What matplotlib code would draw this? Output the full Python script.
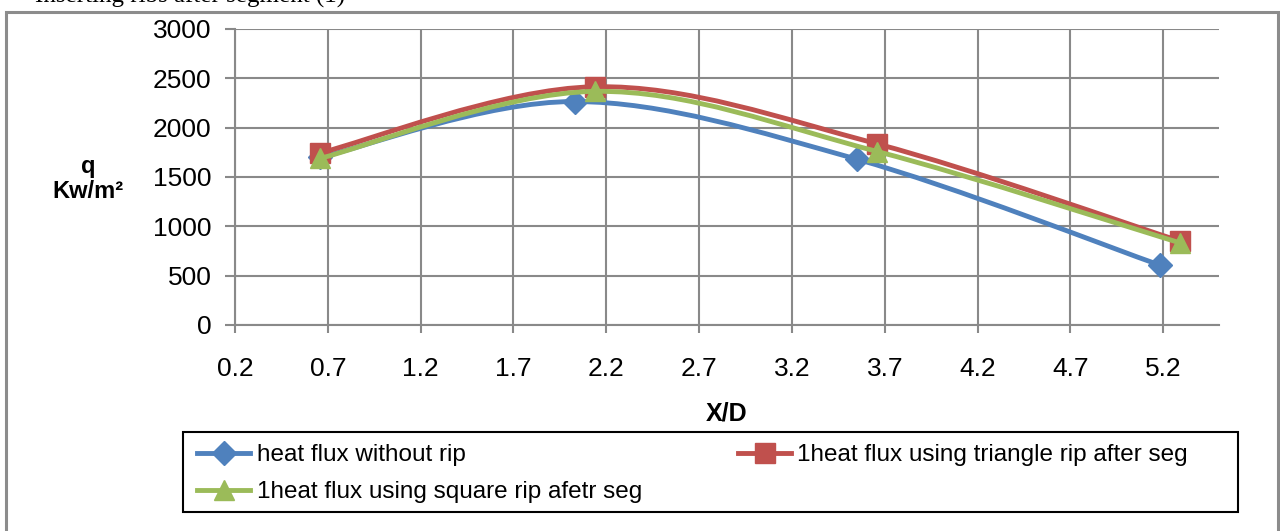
import numpy as np
import matplotlib
matplotlib.use('Agg')
import matplotlib.pyplot as plt
from matplotlib.path import Path
from matplotlib.patches import PathPatch, Rectangle
from matplotlib.lines import Line2D

plt.rcParams['font.family'] = ['Liberation Sans', 'DejaVu Sans']

# data
x_plain = [0.66, 2.03, 3.55, 5.18]
q_plain = [1700, 2265, 1680, 608]
x_rib = [0.66, 2.14, 3.66, 5.29]
q_triangle = [1745, 2415, 1835, 850]
q_square = [1690, 2368, 1758, 832]

labels = ['heat flux without rip',
          '1heat flux using triangle rip after seg',
          '1heat flux using square rip afetr seg']
colors = ['#4F81BD', '#C0504D', '#9BBB59']
markers = ['D', 's', '^']
msizes = [12, 14, 15]

x_ticks = [0.2, 0.7, 1.2, 1.7, 2.2, 2.7, 3.2, 3.7, 4.2, 4.7, 5.2]
y_ticks = [0, 500, 1000, 1500, 2000, 2500, 3000]


def smooth_path(xs, ys):
    # excel style smoothed line (bezier through the points)
    P = np.column_stack([xs, ys]).astype(float)
    n = len(P)
    verts = [P[0]]
    codes = [Path.MOVETO]
    for i in range(n - 1):
        p0 = P[i - 1] if i > 0 else P[i]
        p3 = P[i + 2] if i + 2 < n else P[i + 1]
        c1 = P[i] + (P[i + 1] - p0) / 6
        c2 = P[i + 1] - (p3 - P[i]) / 6
        verts += [c1, c2, P[i + 1]]
        codes += [Path.CURVE4] * 3
    return Path(verts, codes)


fig = plt.figure(figsize=(12.8, 5.31), dpi=100)
ax = fig.add_axes([235 / 1280, 1 - 325 / 531, (1219 - 235) / 1280, (325 - 29) / 531])

series = [(x_plain, q_plain), (x_rib, q_triangle), (x_rib, q_square)]
handles = []
for k, (xs, ys) in enumerate(series):
    patch = PathPatch(smooth_path(xs, ys), facecolor='none', edgecolor=colors[k],
                      lw=3.5, zorder=3 + k, capstyle='round', joinstyle='round')
    ax.add_patch(patch)
    ax.plot(xs, ys, ls='none', marker=markers[k], ms=msizes[k], color=colors[k],
            mec=colors[k], zorder=3 + k)
    handles.append(Line2D([], [], color=colors[k], lw=3.5, marker=markers[k],
                          ms=msizes[k], mec=colors[k], label=labels[k]))

ax.set_xlim(0.2, 5.5)
ax.set_ylim(0, 3000)
ax.set_xticks(x_ticks)
ax.set_xticklabels([str(v) for v in x_ticks])
ax.set_yticks(y_ticks)
ax.grid(True, color='#898989', lw=1.5)
ax.set_axisbelow(True)
for s in ['top', 'right']:
    ax.spines[s].set_visible(False)
for s in ['left', 'bottom']:
    ax.spines[s].set_color('#898989')
    ax.spines[s].set_linewidth(1.5)
ax.tick_params(axis='x', length=6, width=1.5, color='#898989', pad=17, labelsize=19)
ax.tick_params(axis='y', length=7, width=1.5, color='#898989', pad=10, labelsize=19)

ax.set_xlabel('X/D', fontsize=18, fontweight='bold', labelpad=15)
fig.text(88 / 1280, 1 - 179 / 531, 'q\nKw/m²', ha='center', va='center',
         fontsize=17, fontweight='bold', linespacing=1.15)

# legend (order so the columns read like the original rows)
leg = fig.legend(handles=[handles[0], handles[2], handles[1]], ncol=2,
                 loc='upper left', bbox_to_anchor=(197 / 1280, 1 - 444 / 531),
                 prop={'size': 17.5}, frameon=False, borderaxespad=0, borderpad=0,
                 handlelength=2.2, handletextpad=0.25, labelspacing=0.62,
                 columnspacing=3.95)
fig.add_artist(Rectangle((183 / 1280, 1 - 512 / 531), (1238 - 183) / 1280, 80 / 531,
                         transform=fig.transFigure, fill=False, edgecolor='black',
                         lw=1.5))

# caption cut off at the top of the image
fig.text(35 / 1280, 1 - 3 / 531, 'Inserting ribs after segment (1)', ha='left',
         va='baseline', fontsize=18, family=['Liberation Serif', 'DejaVu Serif'])

# outer chart border
fig.add_artist(Rectangle((6 / 1280, -0.05), (1278 - 6) / 1280, 1.05 - 12 / 531,
                         transform=fig.transFigure, fill=False, edgecolor='#8c8c8c',
                         lw=2.2, clip_on=False))

fig.savefig('out.png', dpi=100)
